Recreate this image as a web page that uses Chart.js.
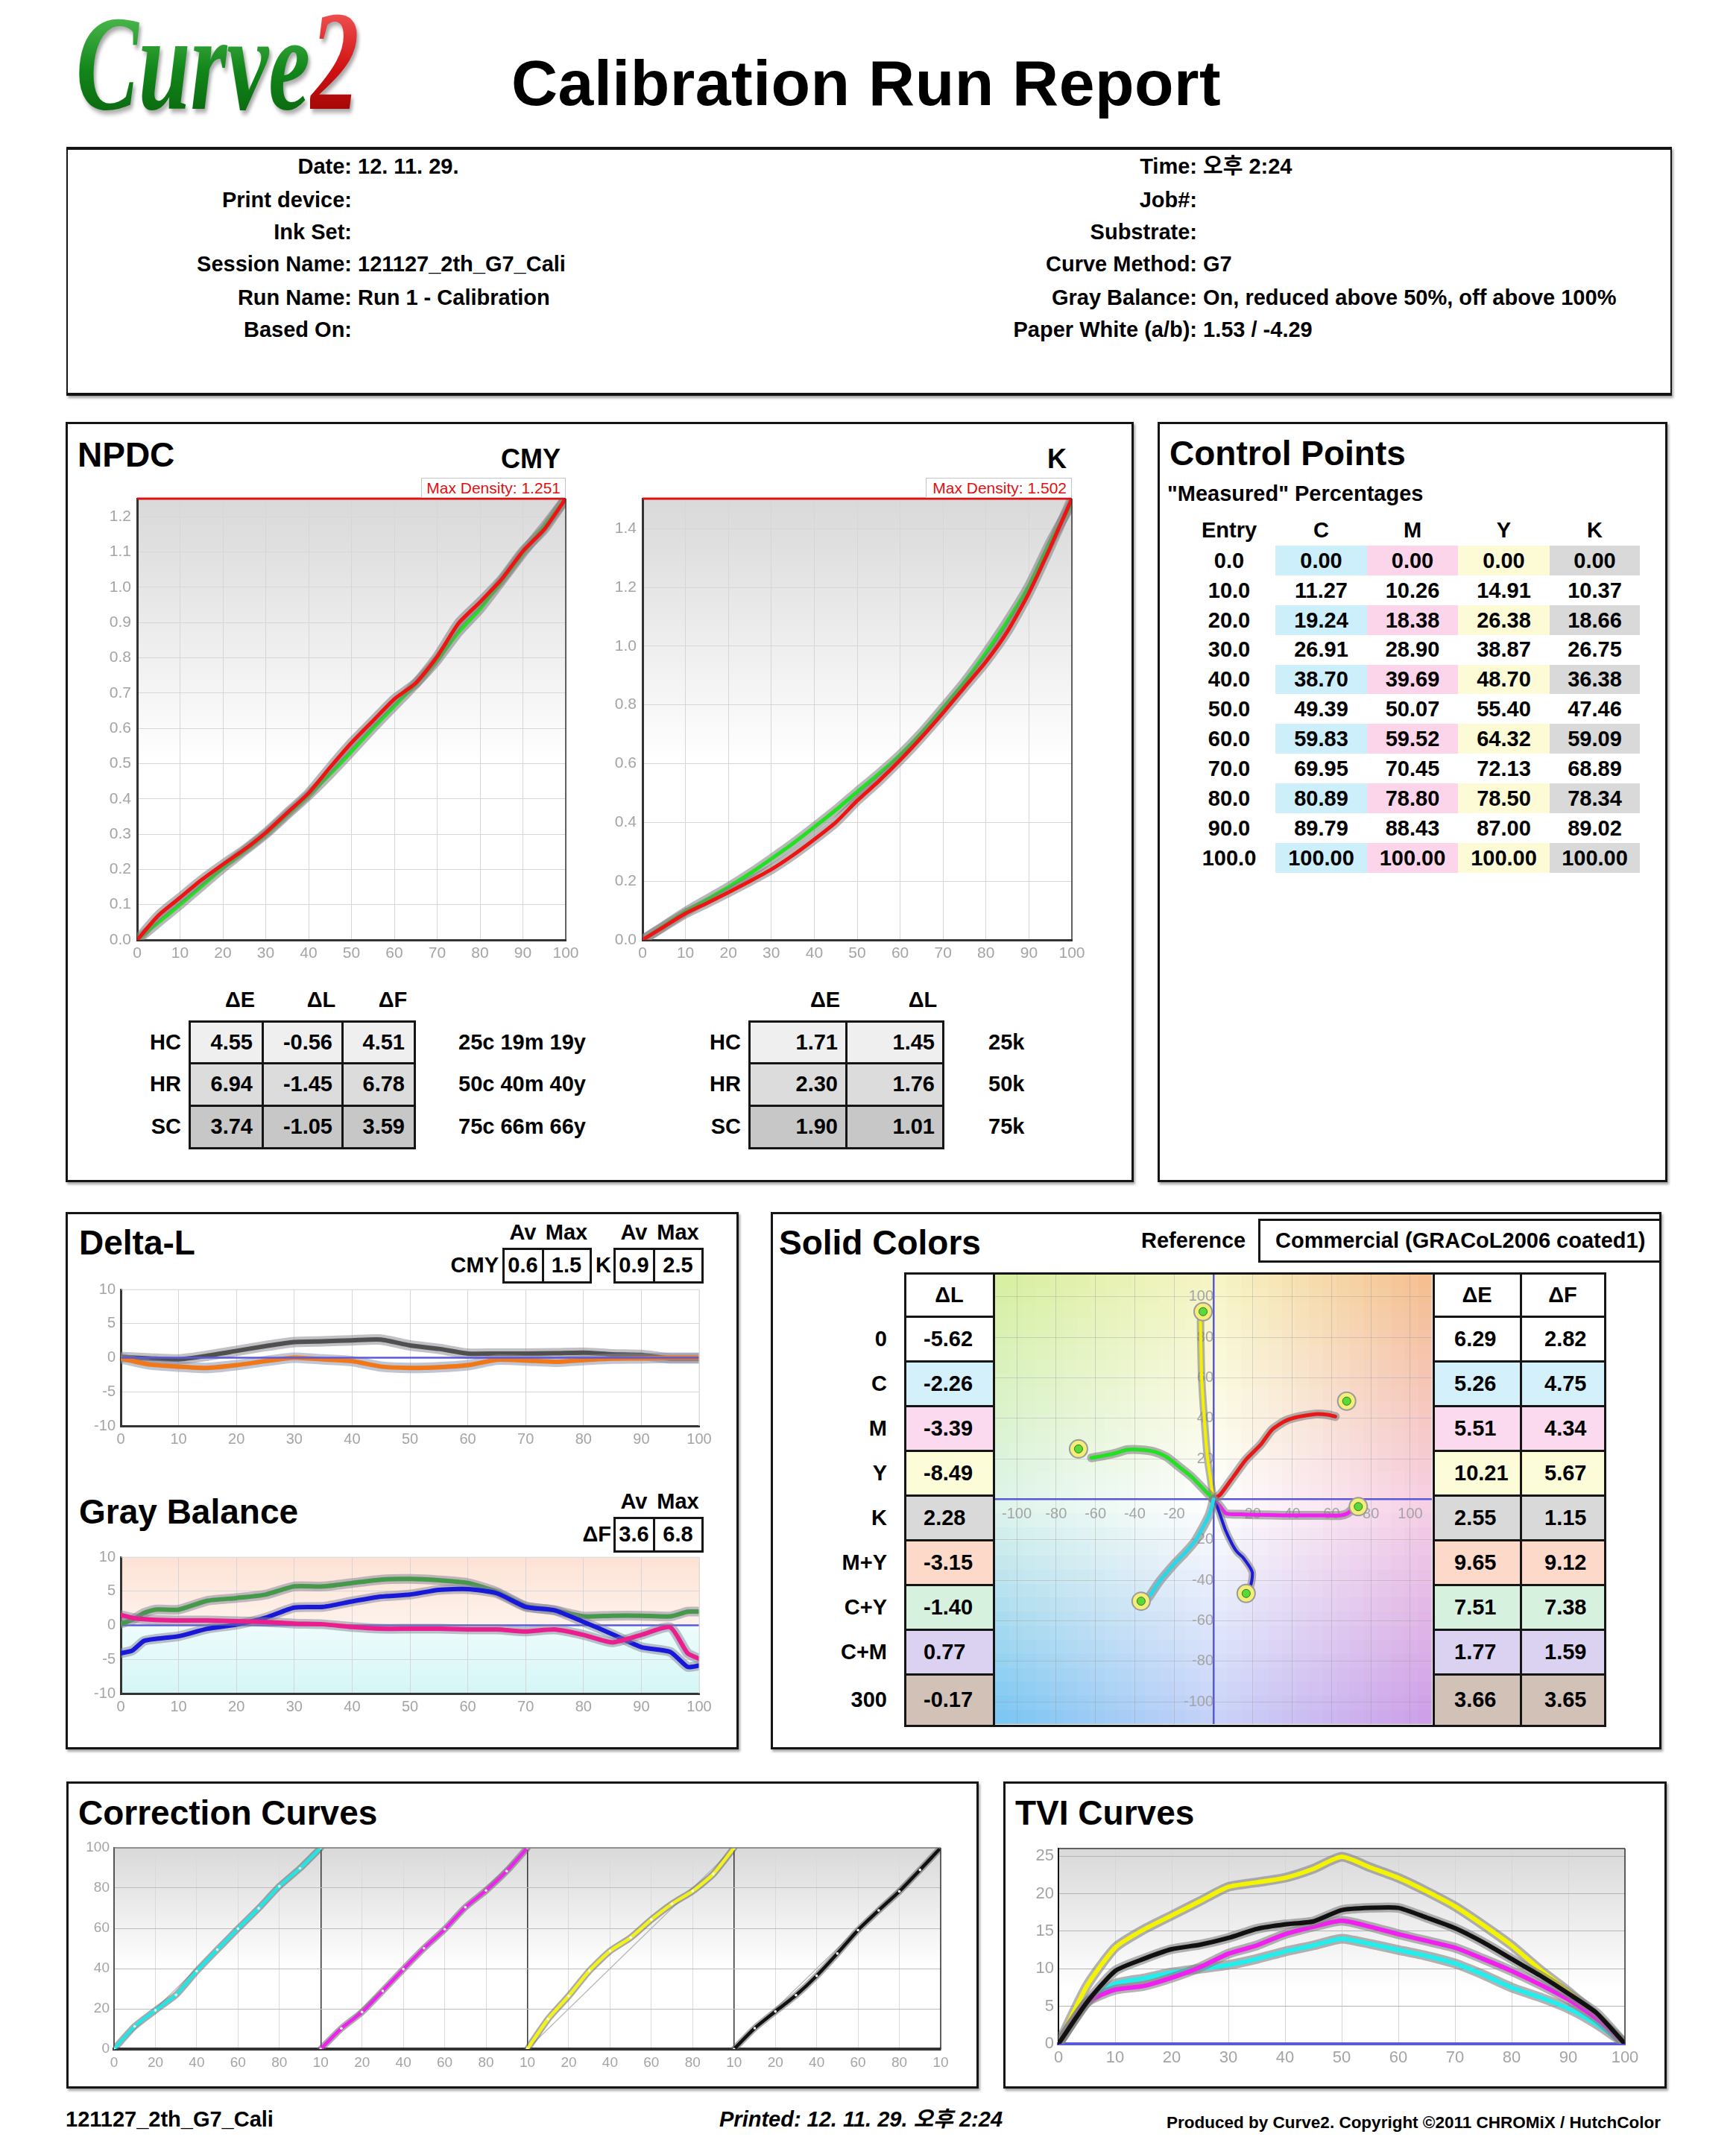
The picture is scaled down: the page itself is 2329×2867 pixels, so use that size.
<!DOCTYPE html>
<html lang="ko"><head><meta charset="utf-8"><title>Calibration Run Report</title>
<script src="https://cdn.jsdelivr.net/npm/chart.js@4.4.1/dist/chart.umd.min.js"></script>
<style>
html,body{margin:0;padding:0;background:#fff}
body{position:relative;width:2329px;height:2867px;overflow:hidden;font-family:'Liberation Sans',Arial,'Noto Sans CJK KR',sans-serif;font-weight:bold;color:#000}
.t{position:absolute;white-space:nowrap;line-height:1}
.r{position:absolute}
.bx{position:absolute;box-sizing:border-box;border:3px solid #151515;box-shadow:2px 3px 3px rgba(0,0,0,.35)}
.c{position:absolute;box-sizing:border-box;border:3px solid #151515}
canvas{position:absolute}
</style></head>
<body>
<script>
// ================= DATA =================
const infoLeftLabels  = ['Date:', 'Print device:', 'Ink Set:', 'Session Name:', 'Run Name:', 'Based On:'];
const infoLeftValues  = ['12. 11. 29.', '', '', '121127_2th_G7_Cali', 'Run 1 - Calibration', ''];
const infoRightLabels = ['Time:', 'Job#:', 'Substrate:', 'Curve Method:', 'Gray Balance:', 'Paper White (a/b):'];
const infoRightValues = ['오후 2:24', '', '', 'G7', 'On, reduced above 50%, off above 100%', '1.53 / -4.29'];

// NPDC curves (x = input %, y = density)
const npdcX           = [0,5,10,15,20,25,30,35,40,45,50,55,60,65,70,75,80,85,90,95,100];
const npdcCmyTarget   = [0,0.05,0.10,0.152,0.204,0.252,0.30,0.355,0.41,0.47,0.534,0.60,0.663,0.726,0.793,0.873,0.938,1.017,1.097,1.172,1.251];
const npdcCmyMeasured = [0,0.07,0.12,0.17,0.214,0.256,0.304,0.36,0.416,0.489,0.559,0.621,0.683,0.728,0.803,0.898,0.958,1.022,1.102,1.164,1.251];
const npdcKTarget     = [0,0.048,0.096,0.138,0.18,0.226,0.276,0.328,0.384,0.442,0.504,0.565,0.63,0.705,0.79,0.878,0.977,1.085,1.205,1.355,1.487];
const npdcKMeasured   = [0,0.045,0.09,0.125,0.162,0.2,0.24,0.288,0.342,0.40,0.474,0.54,0.612,0.69,0.773,0.86,0.947,1.05,1.181,1.337,1.502];
const cmyMaxDensity = 1.251;
const kMaxDensity   = 1.502;

// NPDC tables
const npdcRowLabels = ['HC', 'HR', 'SC'];
const cmyDE = [4.55, 6.94, 3.74];
const cmyDL = [-0.56, -1.45, -1.05];
const cmyDF = [4.51, 6.78, 3.59];
const cmyPatches = ['25c 19m 19y', '50c 40m 40y', '75c 66m 66y'];
const kDE = [1.71, 2.30, 1.90];
const kDL = [1.45, 1.76, 1.01];
const kPatches = ['25k', '50k', '75k'];

// Control points
const cpEntries = [0,10,20,30,40,50,60,70,80,90,100];
const cpC = [0.00, 11.27, 19.24, 26.91, 38.70, 49.39, 59.83, 69.95, 80.89, 89.79, 100.00];
const cpM = [0.00, 10.26, 18.38, 28.90, 39.69, 50.07, 59.52, 70.45, 78.80, 88.43, 100.00];
const cpY = [0.00, 14.91, 26.38, 38.87, 48.70, 55.40, 64.32, 72.13, 78.50, 87.00, 100.00];
const cpK = [0.00, 10.37, 18.66, 26.75, 36.38, 47.46, 59.09, 68.89, 78.34, 89.02, 100.00];

// Delta-L
const dlX      = [0,5,10,15,20,25,30,35,40,45,50,55,60,65,70,75,80,85,90,95,100];
const dlK      = [0.1,-0.1,-0.25,0.3,1.0,1.7,2.3,2.4,2.55,2.65,1.8,1.3,0.6,0.6,0.6,0.65,0.75,0.5,0.4,-0.1,-0.1];
const dlCmy    = [-0.1,-1.0,-1.3,-1.5,-1.1,-0.5,0,-0.25,-0.5,-1.3,-1.5,-1.4,-1.1,-0.3,-0.4,-0.6,-0.35,-0.15,-0.1,0,0];
const dlCmyStats = [0.6, 1.5];
const dlKStats   = [0.9, 2.5];

// Gray balance
const gbX     = [0,2,4,6,10,15,20,25,30,35,40,45,50,55,60,65,70,75,80,85,90,95,98,100];
const gbGreen = [0.25,0.8,1.8,2.3,2.3,3.6,4.0,4.5,5.7,5.7,6.2,6.7,6.8,6.6,6.2,4.9,2.8,2.2,1.3,1.4,1.4,1.3,2.0,2.0];
const gbBlue  = [-4.1,-3.7,-2.3,-2.0,-1.6,-0.5,0.1,1.1,2.6,2.7,3.5,4.2,4.5,5.2,5.3,4.7,2.7,2.2,0.5,-1.3,-3.2,-3.9,-6.1,-5.9];
const gbPink  = [1.5,1.1,0.9,0.8,0.7,0.7,0.6,0.5,0.25,0.15,-0.25,-0.5,-0.5,-0.5,-0.6,-0.6,-0.9,-0.6,-1.4,-2.5,-1.4,-0.3,-4.1,-4.9];
const gbStats = [3.6, 6.8];

// Solid colors
const solidLabels = ['0', 'C', 'M', 'Y', 'K', 'M+Y', 'C+Y', 'C+M', '300'];
const solidDL = [-5.62, -2.26, -3.39, -8.49, 2.28, -3.15, -1.40, 0.77, -0.17];
const solidDE = [6.29, 5.26, 5.51, 10.21, 2.55, 9.65, 7.51, 1.77, 3.66];
const solidDF = [2.82, 4.75, 4.34, 5.67, 1.15, 9.12, 7.38, 1.59, 3.65];
const referenceName = 'Commercial (GRACoL2006 coated1)';

// a*b* paths (measured ramps) and targets
const abYellowA  = [0,-1.5,-3,-4.7,-6,-6.5,-6.6];
const abYellowB  = [0,10,20,40,60,80,88];
const abRedA     = [0,3.5,10,16.6,24,29.8,36,41.5,51.7,58,61.9];
const abRedB     = [0,2.4,11,19.7,27,34.4,38.5,40.4,42.1,41.8,40.9];
const abGreenA   = [0,-5,-11,-18,-24,-30,-37,-44,-49,-56,-62];
const abGreenB   = [0,5,11,16.5,21,23.5,24.5,24.5,23,21.5,20.5];
const abMagentaA = [0,3,6.4,14,21,35.6,50,60,64.8,68,70.7];
const abMagentaB = [0,-3,-7,-7.4,-7.6,-7.9,-7.9,-8,-7.9,-7,-4.8];
const abBlueA    = [0,2,3.5,6,9.3,12,15,19.6,19.5,18];
const abBlueB    = [0,-4,-8,-15,-21.8,-26,-28.7,-35.6,-40,-46];
const abCyanA    = [0,-1,-2.3,-6,-9.6,-15,-20,-27,-33];
const abCyanB    = [0,-4,-8,-15,-21,-27,-32,-40,-48.5];
const abTargetA  = [-5.3, 67.7, -68.6, 73.6, 16.6, -36.8];
const abTargetB  = [92.7, 48.5, 24.9, -3.6, -46.5, -50.3];

// TVI curves
const tviX       = [0,5,10,15,20,25,30,35,40,45,50,55,60,65,70,75,80,85,90,95,100];
const tviYellow  = [0,7.7,12.8,15.2,17.1,19.0,20.9,21.5,22.1,23.3,24.9,23.5,22.1,20.3,18.3,15.8,13.1,9.9,7.0,3.7,0];
const tviBlack   = [0,5.5,9.7,11.3,12.6,13.2,14.1,15.3,15.9,16.3,17.8,18.1,18.1,16.8,15.4,13.5,11.3,9.1,6.7,4.1,0];
const tviMagenta = [0,5.5,7.2,7.7,8.8,10.2,12.0,13.1,14.6,15.6,16.4,15.6,14.6,13.7,12.8,11.3,9.7,7.9,5.9,3.4,0];
const tviCyan    = [0,5.5,8.0,8.7,9.5,10.0,10.5,11.3,12.3,13.1,14.0,13.3,12.5,11.7,10.7,9.2,7.5,6.2,4.7,2.6,0];

const footerSession = '121127_2th_G7_Cali';
const footerPrinted = 'Printed: 12. 11. 29. 오후 2:24';
const footerCopyright = 'Produced by Curve2. Copyright ©2011 CHROMiX / HutchColor';

// ================= HELPERS =================
const FONT = "'Liberation Sans', Arial, sans-serif";
Chart.defaults.font.family = FONT;
Chart.defaults.font.weight = 'normal';
const TICK = '#a4a4a4';

function txt(s, x, base, size, o) {
  o = o || {};
  const d = document.createElement('div');
  d.className = 't';
  d.textContent = s;
  d.style.fontSize = size + 'px';
  d.style.top = (base - 0.8465 * size) + 'px';
  const al = o.align || 'left';
  if (al === 'left') d.style.left = x + 'px';
  else if (al === 'right') d.style.right = (2329 - x) + 'px';
  else { d.style.left = x + 'px'; d.style.transform = 'translateX(-50%)'; }
  if (o.color) d.style.color = o.color;
  if (o.weight) d.style.fontWeight = o.weight;
  if (o.italic) d.style.fontStyle = 'italic';
  if (o.ls) d.style.letterSpacing = o.ls;
  document.body.appendChild(d);
  return d;
}
function div(cls, x, y, w, h, css) {
  const d = document.createElement('div');
  d.className = cls;
  d.style.left = x + 'px'; d.style.top = y + 'px';
  d.style.width = w + 'px'; d.style.height = h + 'px';
  if (css) d.style.cssText += ';' + css;
  document.body.appendChild(d);
  return d;
}
function box(x1, y1, x2, y2, css) { return div('bx', x1, y1, x2 - x1, y2 - y1, css); }
function cellAt(x1, y1, x2, y2, bg) { return div('c', x1 - 1.5, y1 - 1.5, x2 - x1 + 3, y2 - y1 + 3, 'background:' + bg); }
function xy(xs, ys) { return xs.map((x, i) => ({x: x, y: ys[i]})); }
function zeroPad(s) { s.paddingLeft = 0; s.paddingRight = 0; s.paddingTop = 0; s.paddingBottom = 0; }
function pair(xs, ys, color, w, hw, order, halo, extra) {
  const data = xy(xs, ys);
  const base = {data: data, showLine: true, pointRadius: 0, tension: 0.2, borderJoinStyle: 'round', borderCapStyle: 'round'};
  return [
    Object.assign({}, base, {borderColor: halo || 'rgba(125,125,125,0.55)', borderWidth: hw, order: order + 1}),
    Object.assign({}, base, {borderColor: color, borderWidth: w, order: order}, extra || {})
  ];
}
function bg(fn) { return {id: 'bgfill', beforeDraw(ch) { const ctx = ch.ctx; ctx.save(); fn(ctx, ch.chartArea, ch); ctx.restore(); }}; }
function frame(sides) {
  return {id: 'frame', afterDraw(ch) {
    const ctx = ch.ctx, a = ch.chartArea; ctx.save();
    sides.forEach(function (sd) {
      ctx.strokeStyle = sd[1]; ctx.lineWidth = sd[2]; ctx.beginPath();
      if (sd[0] === 'top') { ctx.moveTo(a.left, a.top); ctx.lineTo(a.right, a.top); }
      else if (sd[0] === 'right') { ctx.moveTo(a.right, a.top); ctx.lineTo(a.right, a.bottom); }
      else if (sd[0] === 'left') { ctx.moveTo(a.left, a.top); ctx.lineTo(a.left, a.bottom); }
      else { ctx.moveTo(a.left, a.bottom); ctx.lineTo(a.right, a.bottom); }
      ctx.stroke();
    });
    ctx.restore();
  }};
}
function grayGrad(stop, top) {
  return function (ctx, a) {
    const g = ctx.createLinearGradient(0, a.top, 0, a.bottom);
    g.addColorStop(0, top || '#d9d9d9'); g.addColorStop(stop, '#ffffff'); g.addColorStop(1, '#ffffff');
    ctx.fillStyle = g; ctx.fillRect(a.left, a.top, a.right - a.left, a.bottom - a.top);
  };
}
function chartAt(L, T, R, B, m, cfg, center) {
  const c = document.createElement('canvas');
  const w = Math.round(R - L + m.l + m.r), h = Math.round(B - T + m.t + m.b);
  c.width = w; c.height = h;
  c.style.left = (L - m.l) + 'px'; c.style.top = (T - m.t) + 'px';
  c.style.width = w + 'px'; c.style.height = h + 'px';
  document.body.appendChild(c);
  const o = cfg.options;
  o.responsive = false; o.maintainAspectRatio = false; o.animation = false; o.devicePixelRatio = 1; o.events = [];
  o.plugins = Object.assign({legend: {display: false}, tooltip: {enabled: false}}, o.plugins || {});
  if (center) {
    o.layout = {autoPadding: false, padding: {left: m.l, top: m.t, right: m.r, bottom: m.b}};
    o.scales.x.afterFit = s => zeroPad(s);
    o.scales.y.afterFit = s => zeroPad(s);
  } else {
    o.layout = {autoPadding: false, padding: {left: 0, top: m.t, right: m.r, bottom: 0}};
    o.scales.x.afterFit = s => { s.height = m.b; zeroPad(s); };
    o.scales.y.afterFit = s => { s.width = m.l; zeroPad(s); };
  }
  return new Chart(c, cfg);
}
function axis(min, max, step, size, pad, o) {
  return Object.assign({type: 'linear', min: min, max: max,
    ticks: {stepSize: step, includeBounds: false, color: TICK, font: {size: size}, padding: pad, maxRotation: 0, autoSkip: false},
    grid: {color: '#d6d6d6', lineWidth: 1, drawTicks: false},
    border: {color: '#333', width: 3}}, o || {});
}

// ================= HEADER =================
const logo = document.createElement('div');
logo.style.cssText = "position:absolute;left:102px;top:-13px;font-family:'Liberation Serif',serif;font-style:italic;font-weight:bold;font-size:182px;line-height:1;transform:scaleX(0.69);transform-origin:0 0;filter:drop-shadow(4px 5px 3px rgba(0,0,0,.35));white-space:nowrap";
const lg1 = document.createElement('span'); lg1.textContent = 'Curve';
lg1.style.cssText = 'background:linear-gradient(#66d066,#12861a 55%,#065a0a);-webkit-background-clip:text;background-clip:text;color:transparent';
const lg2 = document.createElement('span'); lg2.textContent = '2';
lg2.style.cssText = 'background:linear-gradient(#ff7070,#d01212 55%,#860000);-webkit-background-clip:text;background-clip:text;color:transparent;font-size:190px';
logo.appendChild(lg1); logo.appendChild(lg2);
document.body.appendChild(logo);

txt('Calibration Run Report', 686, 141, 86, {ls: '0.5px'});

box(89, 197, 2243, 531, 'border-width:4px 2px 4px 2px');
const infoBase = [234, 279, 322, 365, 410, 453];
infoBase.forEach(function (b, i) {
  txt(infoLeftLabels[i], 472, b, 29, {align: 'right'});
  if (infoLeftValues[i]) txt(infoLeftValues[i], 480, b, 29);
  txt(infoRightLabels[i], 1606, b, 29, {align: 'right'});
  if (infoRightValues[i]) txt(infoRightValues[i], 1614, b, 29);
});

// ================= PANEL BOXES =================
box(88, 566, 1521, 1586);
box(1553, 566, 2237, 1586);
box(88, 1626, 991, 2347);
box(1034, 1626, 2229, 2347);
box(89, 2390, 1313, 2802);
box(1346, 2390, 2236, 2802);

// ================= NPDC =================
txt('NPDC', 104, 626, 46);
txt('CMY', 712, 628, 36, {align: 'center'});
txt('K', 1405, 628, 36);

function npdcChart(L, T, R, B, target, measured, maxD, step) {
  return chartAt(L, T, R, B, {l: 45, t: 10, r: 35, b: 40}, {
    type: 'scatter',
    data: {datasets: [].concat(
      pair(npdcX, target, '#22e022', 5, 13, 3),
      pair(npdcX, measured, '#ee1414', 5, 13, 1))},
    options: {scales: {
      x: axis(0, 100, 10, 21, 6),
      y: axis(0, maxD, step, 21, 8, {}),
    }},
    plugins: [bg(grayGrad(0.6)), frame([['top', '#e01010', 3], ['right', '#333', 1.5]])]
  });
}
const cmyChart = npdcChart(184, 669, 759, 1261, npdcCmyTarget, npdcCmyMeasured, cmyMaxDensity, 0.1);
cmyChart.options.scales.y.ticks.callback = v => v.toFixed(1); cmyChart.update();
const kChart = npdcChart(862, 669, 1438, 1261, npdcKTarget, npdcKMeasured, kMaxDensity, 0.2);
kChart.options.scales.y.ticks.callback = v => v.toFixed(1); kChart.update();

function maxDensityLabel(x1, x2, val) {
  div('r', x1, 641, x2 - x1, 27, 'box-sizing:border-box;border:1px solid #c4c4c4;background:#fff');
  txt('Max Density: ' + val.toFixed(3), x2 - 7, 662, 21, {align: 'right', color: '#e01010', weight: 'normal'});
}
maxDensityLabel(565, 759, cmyMaxDensity);
maxDensityLabel(1242, 1438, kMaxDensity);

// NPDC tables
const tRows = [1370, 1426, 1483, 1540];
const rowBg = ['#efefef', '#dcdcdc', '#c7c7c7'];
const lCols = [254, 352, 459, 556];
const rCols = [1005, 1135, 1265];
txt('ΔE', 322, 1352, 29, {align: 'center'});
txt('ΔL', 431, 1352, 29, {align: 'center'});
txt('ΔF', 527, 1352, 29, {align: 'center'});
txt('ΔE', 1107, 1352, 29, {align: 'center'});
txt('ΔL', 1238, 1352, 29, {align: 'center'});
for (let r = 0; r < 3; r++) {
  const base = (tRows[r] + tRows[r + 1]) / 2 + 10.5;
  const lv = [cmyDE[r], cmyDL[r], cmyDF[r]];
  for (let c = 0; c < 3; c++) cellAt(lCols[c], tRows[r], lCols[c + 1], tRows[r + 1], rowBg[r]);
  for (let c = 0; c < 3; c++) txt(lv[c].toFixed(2), lCols[c + 1] - 13, base, 29, {align: 'right'});
  txt(npdcRowLabels[r], 243, base, 29, {align: 'right'});
  txt(cmyPatches[r], 615, base, 29);
  const rv = [kDE[r], kDL[r]];
  for (let c = 0; c < 2; c++) cellAt(rCols[c], tRows[r], rCols[c + 1], tRows[r + 1], rowBg[r]);
  for (let c = 0; c < 2; c++) txt(rv[c].toFixed(2), rCols[c + 1] - 11, base, 29, {align: 'right'});
  txt(npdcRowLabels[r], 994, base, 29, {align: 'right'});
  txt(kPatches[r], 1326, base, 29);
}

// ================= CONTROL POINTS =================
txt('Control Points', 1569, 624, 46);
txt('"Measured" Percentages', 1566, 673, 29);
const cpColX = [1711, 1834, 1956, 2079, 2200];
const cpBgs = ['#cdeffb', '#fcd5ea', '#fdfbd5', '#d9d9d9'];
txt('Entry', 1649, 722, 29, {align: 'center'});
['C', 'M', 'Y', 'K'].forEach((h, c) => txt(h, (cpColX[c] + cpColX[c + 1]) / 2, 722, 29, {align: 'center'}));
const cpAll = [cpC, cpM, cpY, cpK];
cpEntries.forEach(function (e, i) {
  const top = 732 + i * 39.9;
  if (i % 2 === 0) for (let c = 0; c < 4; c++) div('r', cpColX[c], top, cpColX[c + 1] - cpColX[c], 39.9, 'background:' + cpBgs[c]);
  txt(e.toFixed(1), 1649, top + 30.3, 29, {align: 'center'});
  for (let c = 0; c < 4; c++) txt(cpAll[c][i].toFixed(2), (cpColX[c] + cpColX[c + 1]) / 2, top + 30.3, 29, {align: 'center'});
});

// ================= DELTA-L & GRAY BALANCE =================
txt('Delta-L', 106, 1683, 46);
txt('Av', 701.5, 1664, 29, {align: 'center'});
txt('Max', 760, 1664, 29, {align: 'center'});
txt('Av', 850.5, 1664, 29, {align: 'center'});
txt('Max', 909.5, 1664, 29, {align: 'center'});
cellAt(675, 1675, 728, 1720, '#fff'); cellAt(728, 1675, 792, 1720, '#fff');
cellAt(824, 1675, 877, 1720, '#fff'); cellAt(877, 1675, 942, 1720, '#fff');
txt('CMY', 669, 1708, 29, {align: 'right'});
txt('K', 799, 1708, 29);
txt(dlCmyStats[0].toFixed(1), 701.5, 1708, 29, {align: 'center'});
txt(dlCmyStats[1].toFixed(1), 760, 1708, 29, {align: 'center'});
txt(dlKStats[0].toFixed(1), 850.5, 1708, 29, {align: 'center'});
txt(dlKStats[1].toFixed(1), 909.5, 1708, 29, {align: 'center'});

const zeroLine = {data: [{x: 0, y: 0}, {x: 100, y: 0}], showLine: true, borderColor: '#5a5ae0', borderWidth: 2.5, pointRadius: 0, order: -1};
chartAt(162, 1730, 938, 1913, {l: 45, t: 12, r: 35, b: 36}, {
  type: 'scatter',
  data: {datasets: [].concat(
    pair(dlX, dlK, '#505050', 6, 14, 3, 'rgba(130,130,140,0.5)'),
    pair(dlX, dlCmy, '#f07818', 6, 14, 1, 'rgba(130,140,170,0.5)'),
    [Object.assign({}, zeroLine)])},
  options: {scales: {x: axis(0, 100, 10, 20, 6), y: axis(-10, 10, 5, 20, 7)}},
  plugins: [frame([['top', '#e4e4e4', 1], ['right', '#e0e0e0', 1]])]
});

txt('Gray Balance', 106, 2044, 46);
txt('Av', 850.5, 2025, 29, {align: 'center'});
txt('Max', 909.5, 2025, 29, {align: 'center'});
cellAt(824, 2036, 877, 2081, '#fff'); cellAt(877, 2036, 942, 2081, '#fff');
txt('ΔF', 820, 2069, 29, {align: 'right'});
txt(gbStats[0].toFixed(1), 850.5, 2069, 29, {align: 'center'});
txt(gbStats[1].toFixed(1), 909.5, 2069, 29, {align: 'center'});

chartAt(162, 2089, 938, 2272, {l: 45, t: 12, r: 35, b: 36}, {
  type: 'scatter',
  data: {datasets: [].concat(
    pair(gbX, gbGreen, '#46984a', 6, 13, 5, 'rgba(130,130,150,0.5)'),
    pair(gbX, gbBlue, '#1818d8', 6, 13, 3, 'rgba(130,130,150,0.5)'),
    pair(gbX, gbPink, '#ea1e8c', 6, 13, 1, 'rgba(130,130,150,0.5)'),
    [Object.assign({}, zeroLine, {order: 10})])},
  options: {scales: {x: axis(0, 100, 10, 20, 6), y: axis(-10, 10, 5, 20, 7)}},
  plugins: [bg(function (ctx, a, ch) {
    const y0 = ch.scales.y.getPixelForValue(0);
    let g = ctx.createLinearGradient(0, a.top, 0, y0); g.addColorStop(0, '#fde2d4'); g.addColorStop(1, '#fdf2ec');
    ctx.fillStyle = g; ctx.fillRect(a.left, a.top, a.right - a.left, y0 - a.top);
    g = ctx.createLinearGradient(0, y0, 0, a.bottom); g.addColorStop(0, '#eefcfc'); g.addColorStop(1, '#d4f6f6');
    ctx.fillStyle = g; ctx.fillRect(a.left, y0, a.right - a.left, a.bottom - y0);
  }), frame([['top', '#e4e4e4', 1], ['right', '#e0e0e0', 1]])]
});

// ================= SOLID COLORS =================
txt('Solid Colors', 1045, 1683, 46);
txt('Reference', 1531, 1675, 29);
div('c', 1688, 1635, 541, 59, 'background:#fff');
txt(referenceName, 1711, 1675, 29);

const sRows = [1708, 1766, 1826, 1886, 1946, 2006, 2066, 2126, 2186, 2246, 2315];
const sBg = ['#ffffff', '#d4f1fb', '#fbd9ef', '#fdfcd9', '#d9d9d9', '#fcd9c9', '#d7f1df', '#dad2f0', '#d2c1b6'];
const sColL = [1214, 1333], sColE = [1923, 2040], sColF = [2040, 2153];
cellAt(sColL[0], sRows[0], sColL[1], sRows[1], '#fff');
cellAt(sColE[0], sRows[0], sColE[1], sRows[1], '#fff');
cellAt(sColF[0], sRows[0], sColF[1], sRows[1], '#fff');
txt('ΔL', (sColL[0] + sColL[1]) / 2, (sRows[0] + sRows[1]) / 2 + 10.5, 29, {align: 'center'});
txt('ΔE', (sColE[0] + sColE[1]) / 2, (sRows[0] + sRows[1]) / 2 + 10.5, 29, {align: 'center'});
txt('ΔF', (sColF[0] + sColF[1]) / 2, (sRows[0] + sRows[1]) / 2 + 10.5, 29, {align: 'center'});
solidLabels.forEach(function (lab, i) {
  const y1 = sRows[i + 1], y2 = sRows[i + 2];
  const base = (y1 + y2) / 2 + 10.5;
  cellAt(sColL[0], y1, sColL[1], y2, sBg[i]);
  cellAt(sColE[0], y1, sColE[1], y2, sBg[i]);
  cellAt(sColF[0], y1, sColF[1], y2, sBg[i]);
  txt(lab, 1190, base, 29, {align: 'right'});
  txt(solidDL[i].toFixed(2), 1239, base, 29);
  txt(solidDE[i].toFixed(2), 1951, base, 29);
  txt(solidDF[i].toFixed(2), 2072, base, 29);
});
cellAt(1333, 1708, 1923, 2315, '#fff');

function abBackground(ctx, a) {
  const cols = [['#d8f0a2', '#f7f5c6', '#f5bc8e'], ['#dff5ec', '#ffffff', '#f6cde4'], ['#76c4f4', '#c6d0f8', '#cc9ae8']];
  const off = document.createElement('canvas'); off.width = 3; off.height = 3;
  const o = off.getContext('2d');
  cols.forEach((row, j) => row.forEach((c, i) => { o.fillStyle = c; o.fillRect(i, j, 1, 1); }));
  ctx.imageSmoothingEnabled = true; ctx.imageSmoothingQuality = 'low';
  ctx.drawImage(off, 0.5, 0.5, 2, 2, a.left, a.top, a.right - a.left, a.bottom - a.top);
}
const abHalo = 'rgba(130,130,130,0.6)';
chartAt(1335, 1710, 1921, 2313, {l: 0, t: 0, r: 0, b: 0}, {
  type: 'scatter',
  data: {datasets: [].concat(
    pair(abYellowA, abYellowB, '#f4f000', 4, 10, 11, abHalo),
    pair(abRedA, abRedB, '#e81818', 5, 12, 9, abHalo),
    pair(abGreenA, abGreenB, '#22e022', 5, 12, 7, abHalo),
    pair(abMagentaA, abMagentaB, '#f020f0', 5, 12, 5, abHalo),
    pair(abBlueA, abBlueB, '#1a1ad8', 4, 10, 3, abHalo),
    pair(abCyanA, abCyanB, '#28d8e8', 5, 12, 1, abHalo),
    [{data: xy(abTargetA, abTargetB), pointRadius: 12, pointBackgroundColor: '#f4ee78', pointBorderColor: '#9a9a9a', pointBorderWidth: 2, order: -1},
     {data: xy(abTargetA, abTargetB), pointRadius: 5.5, pointBackgroundColor: '#5ad83a', pointBorderColor: '#2f7a1e', pointBorderWidth: 1, order: -2}])},
  options: {scales: {
    x: {type: 'linear', min: -111, max: 111, position: {y: 0},
      ticks: {stepSize: 20, includeBounds: false, color: TICK, font: {size: 20}, padding: 8, maxRotation: 0, autoSkip: false, callback: v => v === 0 ? '' : String(v)},
      grid: {color: 'rgba(150,150,150,0.35)', drawTicks: false}, border: {color: '#5858d8', width: 2.5}},
    y: {type: 'linear', min: -111, max: 111, position: {x: 0},
      ticks: {stepSize: 20, includeBounds: false, color: TICK, font: {size: 20}, padding: 5, autoSkip: false, callback: v => v === 0 ? '' : String(v)},
      grid: {color: 'rgba(150,150,150,0.35)', drawTicks: false}, border: {color: '#5858d8', width: 2.5}}
  }},
  plugins: [bg(abBackground)]
}, true);

// ================= CORRECTION CURVES =================
txt('Correction Curves', 105, 2448, 46);
const corrSets = [];
const corrColors = ['#22e6e6', '#ee22ee', '#f2f21e', '#111111'];
[cpC, cpM, cpY, cpK].forEach(function (arr, k) {
  const xs = cpEntries.map(e => e + 100 * k);
  corrSets.push({data: [{x: 100 * k, y: 0}, {x: 100 * k + 100, y: 100}], showLine: true, borderColor: '#b4b4b4', borderWidth: 1.2, pointRadius: 0, order: 30});
  corrSets.push.apply(corrSets, pair(xs, arr, corrColors[k], 4.5, 9, 20 - 2 * k, 'rgba(100,100,100,0.55)',
    {pointRadius: 1.8, pointBackgroundColor: '#ffffff', pointBorderWidth: 0}));
});
chartAt(153, 2479, 1262, 2749, {l: 40, t: 12, r: 10, b: 36}, {
  type: 'scatter',
  data: {datasets: corrSets},
  options: {scales: {
    x: axis(0, 400, 20, 19, 7, {
      ticks: {stepSize: 20, includeBounds: false, color: TICK, font: {size: 19}, padding: 7, maxRotation: 0, autoSkip: false,
        callback: v => { if (v === 0) return '0'; const r = v % 100; return r === 0 ? '10' : String(r); }},
      grid: {color: c => (c.tick && c.tick.value % 100 === 0 && c.tick.value > 0 && c.tick.value < 400) ? '#333' : '#dadada',
             lineWidth: c => (c.tick && c.tick.value % 100 === 0) ? 1.5 : 1, drawTicks: false},
      border: {color: '#333', width: 4}}),
    y: axis(0, 100, 20, 19, 6, {grid: {color: '#bdbdbd', drawTicks: false}, border: {color: '#555', width: 2}})
  }},
  plugins: [bg(grayGrad(0.6)), frame([['top', '#777', 1.5], ['right', '#333', 1.5]])]
});

// ================= TVI =================
txt('TVI Curves', 1362, 2448, 46);
chartAt(1420, 2480, 2180, 2742, {l: 42, t: 12, r: 30, b: 38}, {
  type: 'scatter',
  data: {datasets: [].concat(
    pair(tviX, tviYellow, '#f4f400', 6, 13, 7, 'rgba(130,130,130,0.6)'),
    pair(tviX, tviCyan, '#22eeee', 6, 13, 5, 'rgba(130,130,130,0.6)'),
    pair(tviX, tviMagenta, '#f020f0', 6, 13, 3, 'rgba(130,130,130,0.6)'),
    pair(tviX, tviBlack, '#111111', 6, 13, 1, 'rgba(130,130,130,0.6)'))},
  options: {scales: {
    x: axis(0, 100, 10, 22, 6, {border: {color: '#5a5ad8', width: 4}}),
    y: axis(0, 26, 5, 22, 6, {grid: {color: '#b4b4b4', drawTicks: false}, border: {color: '#111', width: 2}})
  }},
  plugins: [bg(grayGrad(0.72)), frame([['top', '#333', 1.5], ['right', '#333', 1.5]])]
});

// ================= FOOTER =================
txt(footerSession, 88, 2854, 29);
txt(footerPrinted, 965, 2854, 29, {italic: true});
txt(footerCopyright, 2228, 2856, 22.5, {align: 'right'});
</script>
</body></html>
